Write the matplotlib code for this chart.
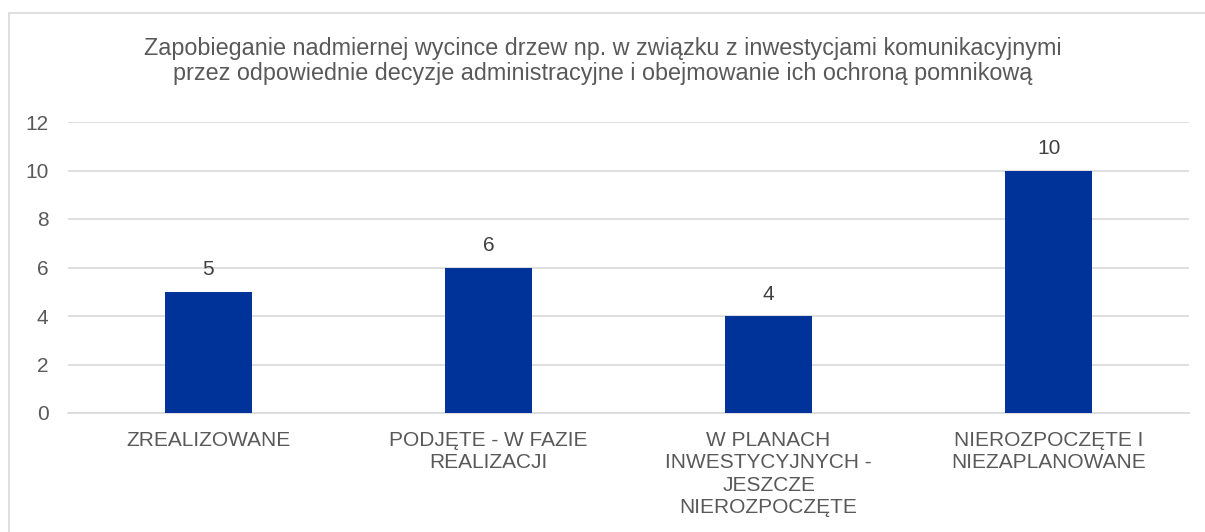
import matplotlib
matplotlib.use("Agg")
import matplotlib.pyplot as plt
from matplotlib.patches import Rectangle

plt.rcParams['font.family'] = ['Liberation Sans', 'DejaVu Sans']

title = ("Zapobieganie nadmiernej wycince drzew np. w związku z inwestycjami komunikacyjnymi\n"
         "przez odpowiednie decyzje administracyjne i obejmowanie ich ochroną pomnikową")
categories = ["ZREALIZOWANE",
              "PODJĘTE - W FAZIE\nREALIZACJI",
              "W PLANACH\nINWESTYCYJNYCH -\nJESZCZE\nNIEROZPOCZĘTE",
              "NIEROZPOCZĘTE I\nNIEZAPLANOWANE"]
values = [5, 6, 4, 10]
yticks = [0, 2, 4, 6, 8, 10, 12]

BAR = "#003399"
TXT = "#595959"
GRID = "#d9d9d9"

W, H = 1205, 532
fig = plt.figure(figsize=(W / 100, H / 100), dpi=100)

# chart frame
fig.patches.append(Rectangle((9 / W, -0.1), 1.2, (H - 13) / H + 0.1,
                             transform=fig.transFigure, fill=False,
                             edgecolor=GRID, linewidth=1.2))

ax = fig.add_axes([68 / W, (H - 413) / H, (1189 - 68) / W, (413 - 122) / H])
x = range(len(categories))
bars = ax.bar(x, values, width=0.31, color=BAR, zorder=3)
ax.set_xlim(-0.5, len(categories) - 0.5)
ax.set_ylim(0, 12)
ax.set_yticks(yticks)
ax.yaxis.grid(True, color=GRID, linewidth=1.2, zorder=0)
for s in ["top", "right", "left"]:
    ax.spines[s].set_visible(False)
ax.spines["bottom"].set_color(GRID)
ax.spines["bottom"].set_linewidth(1.2)
ax.tick_params(axis="both", length=0, labelsize=15, labelcolor=TXT)
ax.tick_params(axis="y", pad=14)
ax.tick_params(axis="x", pad=13)
ax.set_xticks(list(x))
ax.set_xticklabels(categories, linespacing=1.22)

for b, v in zip(bars, values):
    ax.annotate(str(v), (b.get_x() + b.get_width() / 2, v), xytext=(0, 9),
                textcoords="offset points", ha="center", va="bottom",
                fontsize=15, color="#404040")

fig.text(0.5, (H - 61) / H, title, ha="center", va="center",
         fontsize=16.8, color=TXT, linespacing=1.15)

fig.savefig("out.png", dpi=100, facecolor="white")
